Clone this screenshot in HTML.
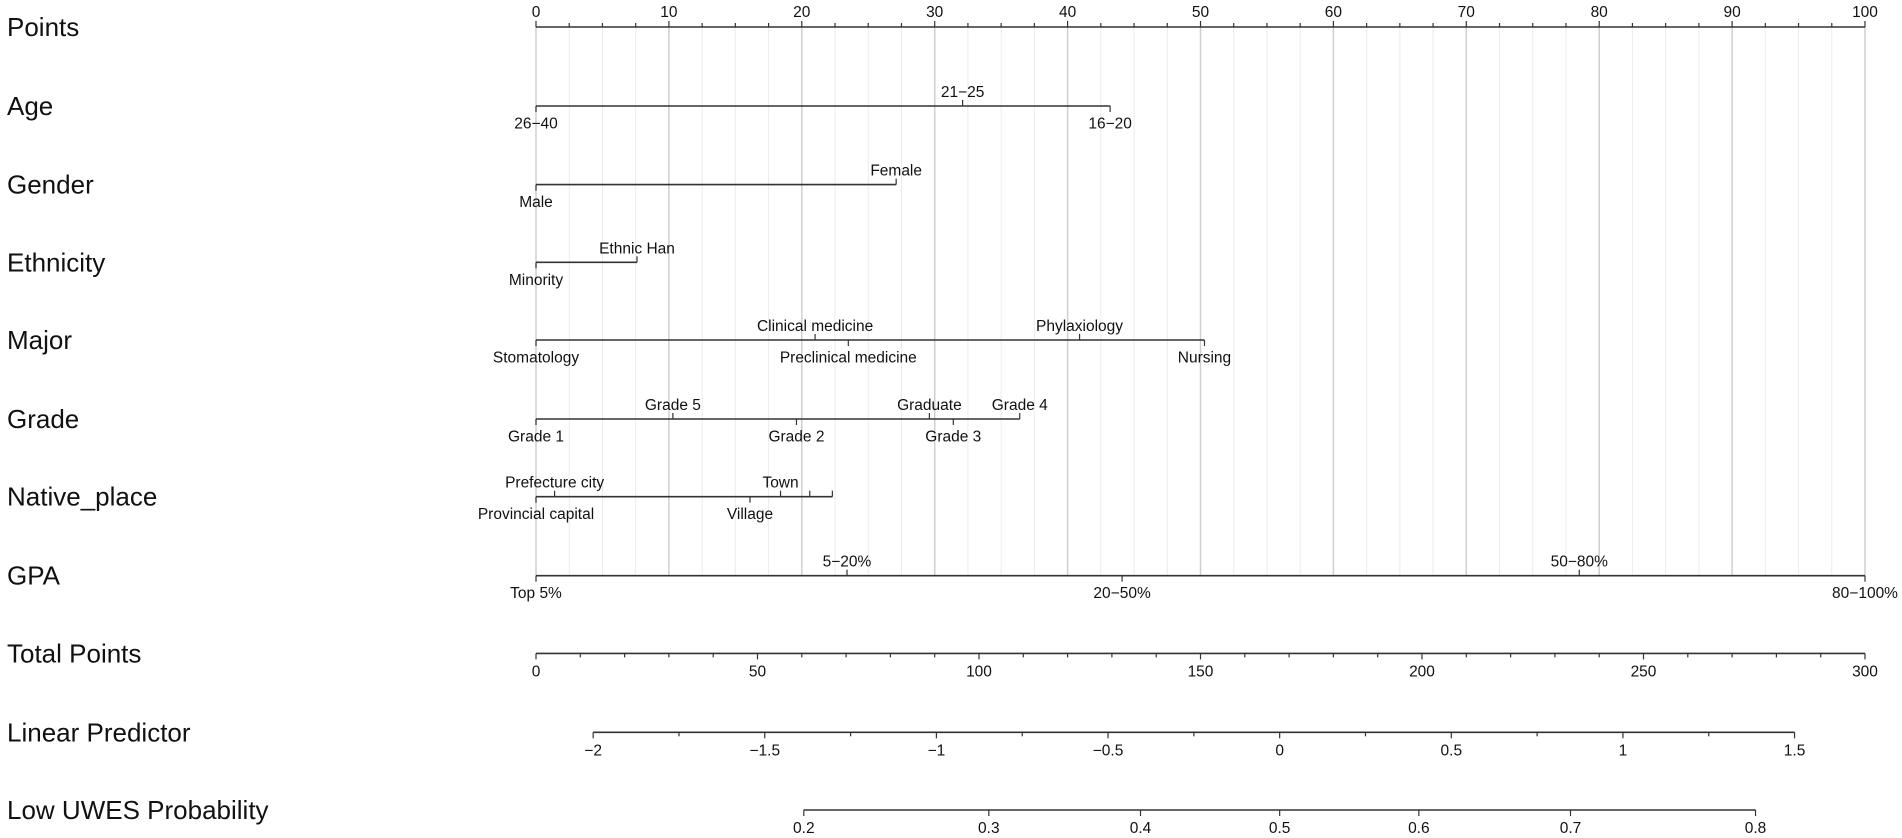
<!DOCTYPE html>
<html><head><meta charset="utf-8"><style>
html,body{margin:0;padding:0;background:#fff;}
svg{display:block;font-family:"Liberation Sans",Arial,sans-serif;}
</style></head><body>
<svg id="chart" width="1902" height="838" viewBox="0 0 1902 838" xmlns="http://www.w3.org/2000/svg"></svg>
<script>
// ---- data ----
const rowNames = ["Age","Gender","Ethnicity","Major","Grade","Native_place","GPA"];
const ageLevels = ["26−40","21−25","16−20"];
const agePoints = [0,32.1,43.2];
const agePos = ["b","a","b"];
const genderLevels = ["Male","Female"];
const genderPoints = [0,27.1];
const genderPos = ["b","a"];
const ethLevels = ["Minority","Ethnic Han"];
const ethPoints = [0,7.6];
const ethPos = ["b","a"];
const majorLevels = ["Stomatology","Clinical medicine","Preclinical medicine","Phylaxiology","Nursing"];
const majorPoints = [0,21.0,23.5,40.9,50.3];
const majorPos = ["b","a","b","a","b"];
const gradeLevels = ["Grade 1","Grade 5","Grade 2","Graduate","Grade 3","Grade 4"];
const gradePoints = [0,10.3,19.6,29.6,31.4,36.4];
const gradePos = ["b","a","b","a","b","a"];
const nativeLevels = ["Provincial capital","Prefecture city","Village","Town","",""];
const nativePoints = [0,1.4,16.1,18.4,20.6,22.3];
const nativePos = ["b","a","b","a","n","n"];
const gpaLevels = ["Top 5%","5−20%","20−50%","50−80%","80−100%"];
const gpaPoints = [0,23.4,44.1,78.5,100];
const gpaPos = ["b","a","b","a","b"];
const pointsTicks = [0,10,20,30,40,50,60,70,80,90,100];
const totalTicks = [0,50,100,150,200,250,300];
const lpTicks = [-2,-1.5,-1,-0.5,0,0.5,1,1.5];
const lpTickLabels = ["−2","−1.5","−1","−0.5","0","0.5","1","1.5"];
const probTicks = [0.2,0.3,0.4,0.5,0.6,0.7,0.8];
// LP mapping: total points at lp=-2 and lp=1.5
const lpAnchorTotals = [12.9,284.1];
const lpAnchorValues = [-2,1.5];

// ---- layout ----
const X0=536, X1=1865;
const xPts = p => X0 + (X1-X0)*p/100;
const xTot = t => X0 + (X1-X0)*t/300;
const lpToTot = v => lpAnchorTotals[0] + (v-lpAnchorValues[0])*(lpAnchorTotals[1]-lpAnchorTotals[0])/(lpAnchorValues[1]-lpAnchorValues[0]);
const xLp = v => xTot(lpToTot(v));
const xProb = p => xLp(Math.log(p/(1-p)));
const Y = {Points:27, Age:106, Gender:184.6, Ethnicity:262.3, Major:340, Grade:419, Native_place:496.7, GPA:575.7, Total:653.4, LP:732.3, Prob:810};
const svg=document.getElementById('chart');
const NS="http://www.w3.org/2000/svg";
function el(tag,attrs,parent){const e=document.createElementNS(NS,tag);for(const k in attrs)e.setAttribute(k,attrs[k]);(parent||svg).appendChild(e);return e;}
function txt(s,x,y,size,anchor,parent){const t=el('text',{x:x,y:y,'font-size':size,'text-anchor':anchor||'middle',fill:'#111'},parent);t.textContent=s;return t;}

// gridlines
const grid=el('g',{});


for(let p=0;p<=100;p+=2.5){
  const major = Math.abs(p%10)<1e-6;
  const g=el('line',{x1:xPts(p),x2:xPts(p),y1:Y.Points,y2:Y.GPA,stroke:major?'#cfcfcf':'#ececec','stroke-width':major?1.5:1},grid);
  
  
}

// row labels
const leftLabels=[["Points",Y.Points],["Age",Y.Age],["Gender",Y.Gender],["Ethnicity",Y.Ethnicity],["Major",Y.Major],["Grade",Y.Grade],["Native_place",Y.Native_place],["GPA",Y.GPA],["Total Points",Y.Total],["Linear Predictor",Y.LP],["Low UWES Probability",Y.Prob]];
leftLabels.forEach(([s,y])=>{
  const t=txt(s,7,y+9,26,'start');
  
  
});

const S='#333', SW=1.6, FS=15.5;
// Points axis
const pg=el('g',{});


el('line',{x1:xPts(0),x2:xPts(100),y1:Y.Points,y2:Y.Points,stroke:S,'stroke-width':SW},pg);
for(let p=0;p<=100;p+=2.5){
  const major=Math.abs(p%10)<1e-6;
  el('line',{x1:xPts(p),x2:xPts(p),y1:Y.Points,y2:Y.Points-(major?6:4),stroke:S,'stroke-width':1.2},pg);
}
pointsTicks.forEach(p=>{const t=txt(String(p),xPts(p),Y.Points-10,FS,'middle',pg);});

// variable rows
const rows=[["Age",ageLevels,agePoints,agePos],["Gender",genderLevels,genderPoints,genderPos],["Ethnicity",ethLevels,ethPoints,ethPos],["Major",majorLevels,majorPoints,majorPos],["Grade",gradeLevels,gradePoints,gradePos],["Native_place",nativeLevels,nativePoints,nativePos],["GPA",gpaLevels,gpaPoints,gpaPos]];
rows.forEach(([name,levels,pts,pos])=>{
  const g=el('g',{});
  
  
  const y=Y[name];
  const mn=Math.min(...pts), mx=Math.max(...pts);
  el('line',{x1:xPts(mn),x2:xPts(mx),y1:y,y2:y,stroke:S,'stroke-width':SW},g);
  pts.forEach((p,i)=>{
    const up = pos[i]==='a' || pos[i]==='n';
    el('line',{x1:xPts(p),x2:xPts(p),y1:y,y2:up?y-6:y+6,stroke:S,'stroke-width':1.2},g);
    if(levels[i]){
      const t=txt(levels[i],xPts(p),pos[i]==='a'?y-9:y+22.5,FS,'middle',g);
      
      
    }
  });
});

// Total points axis
const tg=el('g',{});


el('line',{x1:xTot(0),x2:xTot(300),y1:Y.Total,y2:Y.Total,stroke:S,'stroke-width':SW},tg);
for(let t=0;t<=300;t+=10){const major=t%50===0;el('line',{x1:xTot(t),x2:xTot(t),y1:Y.Total,y2:Y.Total+(major?6:4),stroke:S,'stroke-width':1.2},tg);}
totalTicks.forEach(t=>{const e=txt(String(t),xTot(t),Y.Total+23,FS,'middle',tg);});

// Linear predictor axis
const lg=el('g',{});


el('line',{x1:xLp(lpTicks[0]),x2:xLp(lpTicks[lpTicks.length-1]),y1:Y.LP,y2:Y.LP,stroke:S,'stroke-width':SW},lg);
for(let v=lpTicks[0];v<=lpTicks[lpTicks.length-1]+1e-9;v+=0.25){const major=Math.abs((v*2)-Math.round(v*2))<1e-6;el('line',{x1:xLp(v),x2:xLp(v),y1:Y.LP,y2:Y.LP+(major?6:4),stroke:S,'stroke-width':1.2},lg);}
lpTicks.forEach((v,i)=>{const e=txt(lpTickLabels[i],xLp(v),Y.LP+23,FS,'middle',lg);});

// Probability axis
const prg=el('g',{});


el('line',{x1:xProb(probTicks[0]),x2:xProb(probTicks[probTicks.length-1]),y1:Y.Prob,y2:Y.Prob,stroke:S,'stroke-width':SW},prg);
probTicks.forEach(p=>{
  el('line',{x1:xProb(p),x2:xProb(p),y1:Y.Prob,y2:Y.Prob+6,stroke:S,'stroke-width':1.2},prg);
  const e=txt(String(p),xProb(p),Y.Prob+23,FS,'middle',prg);
  
  
});
</script>
</body></html>
